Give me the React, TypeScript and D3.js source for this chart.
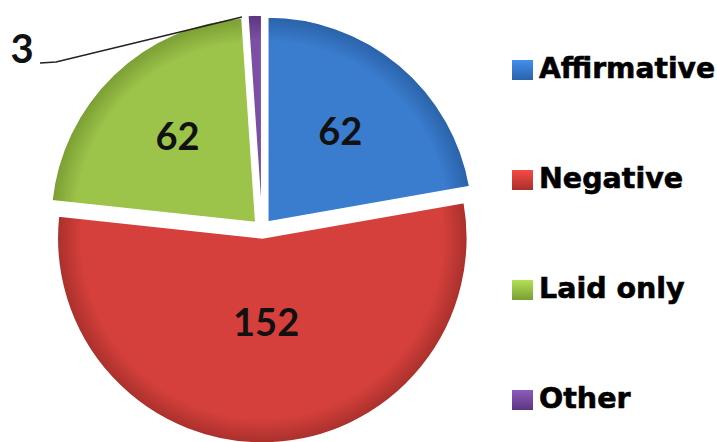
import React from "react";
import * as d3 from "d3";

const categories = ["Affirmative", "Negative", "Laid only", "Other"];
const values = [62, 152, 62, 3];
const colors = ["#3a7cce", "#d6403c", "#9cc34a", "#7b4fa3"];
const darkColors = ["#2a62a8", "#a9302c", "#7a9e33", "#5b3680"];

const W = 717;
const H = 442;
const cx = 262;
const cy = 229;
const R = 205;
const explode = 9;

export default function App() {
  const pie = d3.pie<number>().sort(null).value((d) => d);
  const arcs = pie(values);
  const arc = d3.arc<d3.PieArcDatum<number>>().innerRadius(0).outerRadius(R);
  const labelArc = d3.arc<d3.PieArcDatum<number>>().innerRadius(R * 0.55).outerRadius(R * 0.55);

  const legendY = d3.scalePoint<string>().domain(categories).range([68, 398]);
  const labelDy = [9, -15, 9, 0];

  return (
    <svg
      width={W}
      height={H}
      style={{ position: "absolute", left: 0, top: 0, background: "#fff" }}
    >
      <defs>
        {colors.map((c, i) => (
          <radialGradient
            key={i}
            id={`g${i}`}
            gradientUnits="userSpaceOnUse"
            cx={0}
            cy={0}
            r={R}
          >
            <stop offset="0%" stopColor={c} />
            <stop offset="88%" stopColor={c} />
            <stop offset="100%" stopColor={darkColors[i]} />
          </radialGradient>
        ))}
        {colors.map((c, i) => (
          <linearGradient key={"l" + i} id={`lg${i}`} x1="0" y1="0" x2="0" y2="1">
            <stop offset="0%" stopColor={d3.color(c)!.brighter(0.4).toString()} />
            <stop offset="100%" stopColor={darkColors[i]} />
          </linearGradient>
        ))}
      </defs>
      <g>
        {arcs.map((a, i) => {
          const mid = (a.startAngle + a.endAngle) / 2;
          const dx = Math.sin(mid) * explode;
          const dy = -Math.cos(mid) * explode;
          return (
            <g key={i} transform={`translate(${cx + dx},${cy + dy})`}>
              <path d={arc(a) || ""} fill={`url(#g${i})`} stroke="#ffffff" strokeWidth={1.5} />
            </g>
          );
        })}
        {arcs.map((a, i) => {
          if (values[i] < 10) return null;
          const mid = (a.startAngle + a.endAngle) / 2;
          const dx = Math.sin(mid) * explode;
          const dy = -Math.cos(mid) * explode;
          const [lx, ly] = labelArc.centroid(a);
          return (
            <text
              key={"t" + i}
              x={cx + dx + lx}
              y={cy + dy + ly + labelDy[i]}
              textAnchor="middle"
              fontFamily="Lato, 'Open Sans', sans-serif"
              fontWeight={700}
              fontSize={38}
              fill="#111"
            >
              {values[i]}
            </text>
          );
        })}
        <path d="M40,63 L56,62 L242,17" fill="none" stroke="#222" strokeWidth={1.5} />
        <text
          x={22}
          y={63}
          textAnchor="middle"
          fontFamily="Lato, 'Open Sans', sans-serif"
          fontWeight={700}
          fontSize={40}
          fill="#111"
        >
          {values[3]}
        </text>
      </g>
      <g>
        {categories.map((c, i) => {
          const y = legendY(c)!;
          return (
            <g key={c}>
              <rect x={512} y={y - 8} width={21} height={20} fill={`url(#lg${i})`} />
              <text
                x={539}
                y={y + 10}
                fontFamily="'DejaVu Sans', sans-serif"
                fontWeight={700}
                fontSize={28.5}
                fill="#000"
                stroke="#000"
                strokeWidth={0.6}
                textLength={c === "Affirmative" ? 176 : undefined}
                lengthAdjust="spacingAndGlyphs"
              >
                {c}
              </text>
            </g>
          );
        })}
      </g>
    </svg>
  );
}
